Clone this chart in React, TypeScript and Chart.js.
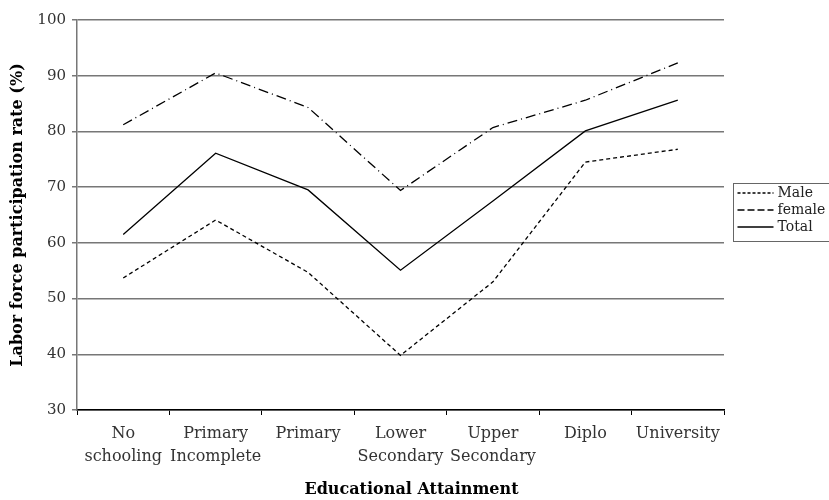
import React, { useEffect, useRef } from "react";
import { Chart, registerables } from "chart.js";

Chart.register(...registerables);

const categories: (string | string[])[] = [
  ["No", "schooling"],
  ["Primary", "Incomplete"],
  "Primary",
  ["Lower", "Secondary"],
  ["Upper", "Secondary"],
  "Diplo",
  "University",
];
const maleValues = [53.7, 64.1, 54.7, 39.8, 53.0, 74.5, 76.8];
const femaleValues = [81.2, 90.5, 84.3, 69.4, 80.7, 85.6, 92.3];
const totalValues = [61.5, 76.1, 69.5, 55.1, 67.5, 80.1, 85.6];
const seriesNames = ["Male", "female", "Total"];
const yTicks = [30, 40, 50, 60, 70, 80, 90, 100];

const FONT = "'DejaVu Serif', 'Liberation Serif', serif";
const DASHES: number[][] = [[4, 3], [10, 4, 1, 4], []];
const LEGEND_DASHES: number[][] = [[3, 2], [7, 3], []];

export default function App() {
  const ref = useRef<HTMLCanvasElement | null>(null);

  useEffect(() => {
    const canvas = ref.current;
    if (!canvas) return;

    const overlay = {
      id: "overlay",
      afterDraw(chart: any) {
        const ctx = chart.ctx;
        const area = chart.chartArea;
        ctx.save();
        // axis titles
        ctx.fillStyle = "#000";
        ctx.font = `bold 16px ${FONT}`;
        ctx.textAlign = "center";
        ctx.textBaseline = "middle";
        ctx.fillText("Educational Attainment", (area.left + area.right) / 2 + 11, 490);
        ctx.save();
        ctx.translate(18, (area.top + area.bottom) / 2);
        ctx.rotate(-Math.PI / 2);
        ctx.fillText("Labor force participation rate (%)", 0, 0);
        ctx.restore();
        // legend
        const bx = 733.5, by = 183.5, bw = 100, bh = 58;
        ctx.strokeStyle = "#666";
        ctx.lineWidth = 1;
        ctx.strokeRect(bx, by, bw, bh);
        ctx.font = `14px ${FONT}`;
        ctx.fillStyle = "#222";
        ctx.textAlign = "left";
        seriesNames.forEach((name, i) => {
          const y = by + 9.5 + i * 17;
          ctx.beginPath();
          ctx.setLineDash(LEGEND_DASHES[i]);
          ctx.lineWidth = 1.3;
          ctx.strokeStyle = "#000";
          ctx.moveTo(bx + 4, y);
          ctx.lineTo(bx + 40, y);
          ctx.stroke();
          ctx.setLineDash([]);
          ctx.fillText(name, bx + 44, y);
        });
        ctx.restore();
      },
    };

    const mk = (label: string, data: number[], i: number) => ({
      label,
      data,
      borderColor: "#000",
      backgroundColor: "#000",
      borderWidth: 1.3,
      borderDash: DASHES[i],
      pointRadius: 0,
      tension: 0,
      fill: false,
    });

    const chart = new Chart(canvas, {
      type: "line",
      data: {
        labels: categories as any,
        datasets: [
          mk(seriesNames[0], maleValues, 0),
          mk(seriesNames[1], femaleValues, 1),
          mk(seriesNames[2], totalValues, 2),
        ],
      },
      plugins: [overlay],
      options: {
        animation: false,
        responsive: false,
        devicePixelRatio: 1,
        layout: { padding: { top: 20, right: 105, left: 0, bottom: 0 } },
        plugins: {
          legend: { display: false },
          tooltip: { enabled: false },
          title: { display: false },
        },
        scales: {
          x: {
            offset: true,
            afterFit(scale: any) {
              scale.height = 90;
            },
            grid: {
              display: true,
              drawOnChartArea: false,
              drawTicks: true,
              tickLength: 5,
              color: "#000",
              offset: true,
            },
            border: { display: true, color: "#000", width: 1.5 },
            ticks: {
              color: "#333",
              font: { family: FONT, size: 16, lineHeight: 1.45 },
              padding: 7,
              maxRotation: 0,
              autoSkip: false,
            },
          },
          y: {
            min: 30,
            max: 100,
            afterFit(scale: any) {
              scale.width = 77;
            },
            afterBuildTicks(scale: any) {
              scale.ticks = yTicks.map((v) => ({ value: v }));
            },
            grid: {
              color: "#777",
              lineWidth: 1.5,
              tickLength: 5,
              drawTicks: true,
            },
            border: { display: true, color: "#777", width: 1.5 },
            ticks: {
              color: "#333",
              font: { family: FONT, size: 15 },
              padding: 6,
            },
          },
        },
      },
    } as any);

    return () => chart.destroy();
  }, []);

  return (
    <div style={{ position: "fixed", left: 0, top: 0, width: 829, height: 500, background: "#fff" }}>
      <canvas ref={ref} width={829} height={500} style={{ width: 829, height: 500, display: "block" }} />
    </div>
  );
}
